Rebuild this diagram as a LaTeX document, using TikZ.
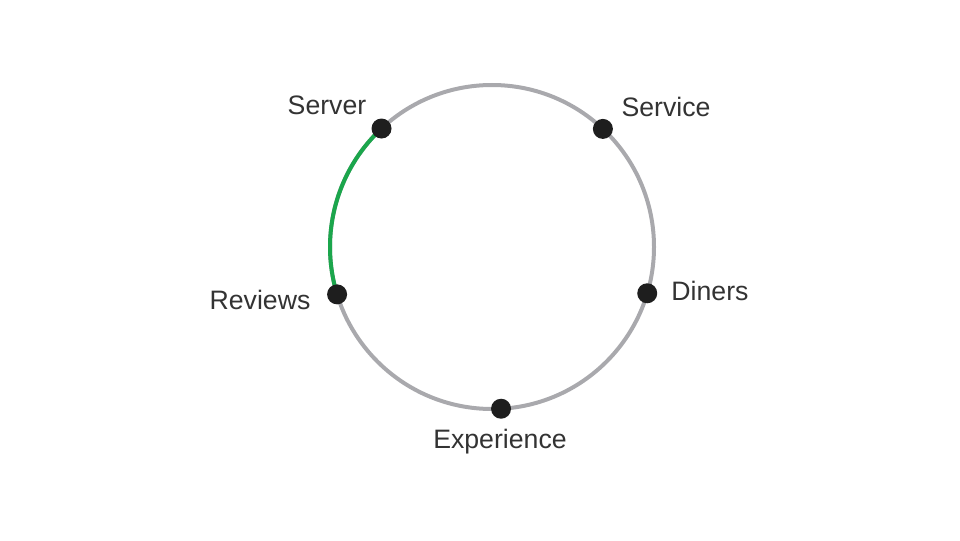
\documentclass[tikz,border=0pt]{standalone}
\usepackage{fontspec}
\setmainfont{Liberation Sans}
\usetikzlibrary{calc}
\definecolor{ringgray}{HTML}{A9A9AD}
\definecolor{arcgreen}{HTML}{1BA64C}
\definecolor{dotblack}{HTML}{1E1E1E}
\definecolor{txt}{HTML}{333333}
\begin{document}
\begin{tikzpicture}[x=0.75pt,y=0.75pt,
  dot/.style={circle,fill=dotblack,inner sep=0pt,minimum size=15pt},
  lbl/.style={text=txt,font=\fontsize{20pt}{24pt}\selectfont,inner sep=0pt},
  ring/.style={draw=ringgray,line width=3pt},
  hl/.style={draw=arcgreen,line width=3pt}]
\useasboundingbox (0,0) rectangle (960,540);
\coordinate (c) at (492,293);
\draw[ring] (c) circle[radius=121.5pt];
\coordinate (pserver) at ($(c)+(133:121.5pt)$);
\coordinate (pservice) at ($(c)+(46.8:121.5pt)$);
\coordinate (pdiners) at ($(c)+(-16.6:121.5pt)$);
\coordinate (pexp) at ($(c)+(-86.8:121.5pt)$);
\coordinate (previews) at ($(c)+(197:121.5pt)$);
\draw[hl] (pserver) arc[start angle=133, end angle=197, radius=121.5pt];
\node[dot] (server) at (pserver) {};
\node[dot] (service) at (pservice) {};
\node[dot] (diners) at (pdiners) {};
\node[dot] (experience) at (pexp) {};
\node[dot] (reviews) at (previews) {};
\node[lbl] (lserver) at (327,435) {Server};
\node[lbl] (lservice) at (666,433) {Service};
\node[lbl] (ldiners) at (710,249) {Diners};
\node[lbl] (lexp) at (500,98) {Experience};
\node[lbl] (lreviews) at (260,240) {Reviews};
\end{tikzpicture}
\end{document}
